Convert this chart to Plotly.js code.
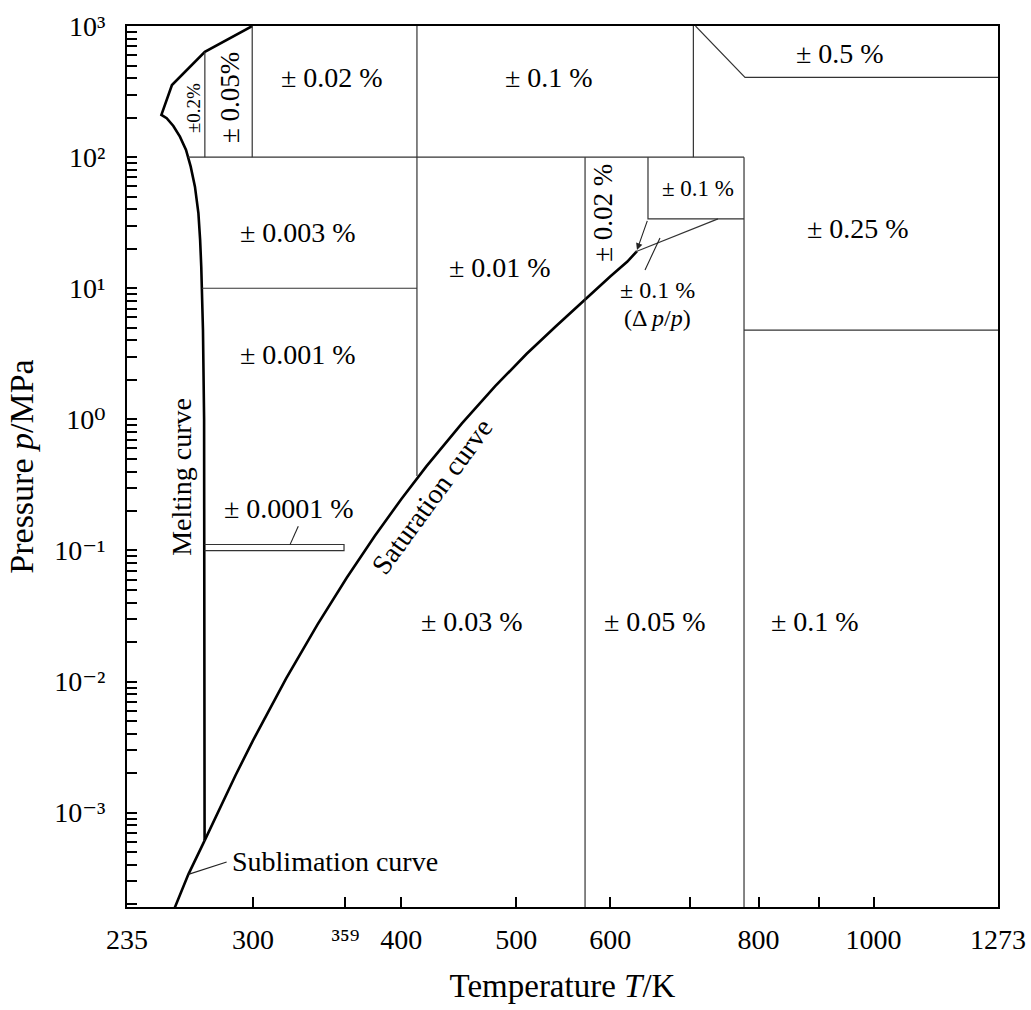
<!DOCTYPE html>
<html>
<head>
<meta charset="utf-8">
<script src="https://cdn.plot.ly/plotly-3.0.1.min.js"></script>
<style>html,body{margin:0;padding:0;background:#fff;}#chart{width:1031px;height:1010px;}</style>
</head>
<body>
<div id="chart"></div>
<script>
// ---------- data (T in K, p in MPa) ----------
const meltT = [273.16, 273.1, 272.9, 272.3, 272.0, 271.4, 270.8, 269.9, 268.1, 265.9, 263.5, 260.4, 257.1, 253.8, 251.2, 256.4, 273.3, 299.6];
const meltP = [0.000612, 0.1, 1, 4.8, 8.2, 14.6, 23.4, 37.4, 59.6, 84.6, 113.5, 143.3, 172.9, 198, 210, 355, 635, 1000];

const sublT = [273.16, 264.7, 257.9, 254];
const sublP = [0.000612, 0.000338, 0.00019, 0.000136];

const satT = [273.16, 280, 290, 300, 320, 340, 360, 380, 400, 420, 450, 480, 510, 540, 570, 600, 620, 632];
const satP = [0.000612, 0.00099, 0.00192, 0.00354, 0.01055, 0.0272, 0.0622, 0.1289, 0.2458, 0.4373, 0.932, 1.79, 3.15, 5.13, 8.1, 12.3, 15.9, 19.2];

// region boundaries (segments separated by null)
const boundT = [273.3, 273.3, null, 299.6, 299.6, null, 412.4, 412.4, null, 705, 705, null,
                264.5, 777.8, null, 271.8, 412.4, null, 571.4, 571.4, null, 777.8, 777.8, null,
                645.6, 645.6, 777.8, null, 777.8, 1273, null, 708, 779.3, 1273, null,
                273.1, 358, 358, 273.1, null, 739.5, 629.6];
const boundP = [635, 100, null, 1000, 100, null, 1000, 0.37, null, 1000, 100, null,
                100, 100, null, 10, 10, null, 100, 1e-4, null, 100, 1e-4, null,
                100, 33.8, 33.8, null, 4.8, 4.8, null, 1000, 406, 406, null,
                0.111, 0.111, 0.0997, 0.0997, null, 33.8, 18.9];

// leader lines
const leadT = [327.6, 322.4, null, 641.9, 660.8, null, 285.1, 264.7];
const leadP = [0.1527, 0.1107, null, 13.8, 24.2, null, 0.00042, 0.000338];

// arrow (from box corner to saturation curve end)
const arrowT = [645.6, 632];
const arrowP = [33.8, 19.6];

// tick labels
const xTickVals = [235, 300, 359, 400, 500, 600, 800, 1000, 1273];
const xTickText = ['235', '300', '\u00B3\u2075\u2079', '400', '500', '600', '800', '1000', '1273'];
const xMinorVals = [700, 900];
const yTickVals = [0.001, 0.01, 0.1, 1, 10, 100, 1000];
const yTickText = ['10\u207B\u00B3', '10\u207B\u00B2', '10\u207B\u00B9', '10\u2070', '10\u00B9', '10\u00B2', '10\u00B3'];

// region labels: [text, T, p, angle, size]
const labels = [
  ['\u00B10.2%', 267.1, 237, -90, 19],
  ['\u00B1 0.05%', 287.0, 282.6, -90, 27],
  ['\u00B1 0.02 %', 349.9, 408.6, 0, 28],
  ['\u00B1 0.1 %', 532.8, 408.6, 0, 28],
  ['\u00B1 0.5 %', 936.9, 622.6, 0, 28],
  ['\u00B1 0.003 %', 327.5, 26.44, 0, 28],
  ['\u00B1 0.01 %', 484.5, 14.31, 0, 28],
  ['\u00B1 0.02 %', 591.6, 37.56, -90, 27],
  ['\u00B1 0.1 %', 711.4, 57.23, 0, 23],
  ['\u00B1 0.25 %', 970.2, 28.36, 0, 28],
  ['\u00B1 0.1 %', 658.2, 9.72, 0, 24],
  ['(\u0394 <i>p</i>/<i>p</i>)', 658.2, 5.95, 0, 24],
  ['\u00B1 0.001 %', 327.5, 3.108, 0, 28],
  ['\u00B1 0.0001 %', 321.8, 0.2083, 0, 28],
  ['Melting curve', 261.5, 0.3651, -90, 28],
  ['Saturation curve', 424.6, 0.2571, -54, 28],
  ['\u00B1 0.03 %', 458.9, 0.02866, 0, 28],
  ['\u00B1 0.05 %', 654.4, 0.02866, 0, 28],
  ['\u00B1 0.1 %', 892.6, 0.02866, 0, 28]
];

// ---------- build ----------
const yMinorVals = [];
for (let d = -4; d <= 2; d++) {
  for (let m = 2; m <= 9; m++) {
    const v = m * Math.pow(10, d);
    if (v >= 1.9e-4) yMinorVals.push(v);
  }
}

const FONT = 'Liberation Serif, DejaVu Serif, serif';
const thick = {color: '#000', width: 2.6};
const traces = [
  {x: meltT, y: meltP, mode: 'lines', line: thick},
  {x: sublT, y: sublP, mode: 'lines', line: thick},
  {x: satT, y: satP, mode: 'lines', line: thick},
  {x: boundT, y: boundP, mode: 'lines', line: {color: '#333', width: 1.2}, connectgaps: false},
  {x: leadT, y: leadP, mode: 'lines', line: {color: '#222', width: 1.1}, connectgaps: false}
];

const annotations = labels.map(l => ({
  text: l[0], x: Math.log10(l[1]), y: Math.log10(l[2]), xref: 'x', yref: 'y',
  showarrow: false, textangle: l[3], font: {family: FONT, size: l[4], color: '#000'}
}));
annotations.push({
  text: 'Sublimation curve', x: Math.log10(287.0), y: Math.log10(4.246e-4), xref: 'x', yref: 'y',
  xanchor: 'left', showarrow: false, font: {family: FONT, size: 28, color: '#000'}
});
annotations.push({
  text: ' ', x: Math.log10(arrowT[1]), y: Math.log10(arrowP[1]),
  ax: Math.log10(arrowT[0]), ay: Math.log10(arrowP[0]), axref: 'x', ayref: 'y', xref: 'x', yref: 'y',
  showarrow: true, arrowhead: 2, arrowsize: 1.2, arrowwidth: 1.1, arrowcolor: '#222', standoff: 0, startstandoff: 0,
  font: {size: 1}
});

const layout = {
  width: 1031, height: 1010,
  margin: {l: 127, r: 33, t: 26, b: 103},
  paper_bgcolor: '#fff', plot_bgcolor: '#fff',
  showlegend: false,
  font: {family: FONT, size: 28, color: '#000'},
  xaxis: {
    type: 'log', range: [Math.log10(234.99), Math.log10(1273.01)],
    tickmode: 'array', tickvals: xTickVals, ticktext: xTickText,
    ticks: 'inside', ticklen: 10, tickwidth: 2, tickcolor: '#000',
    minor: {tickmode: 'array', tickvals: xMinorVals, ticks: 'inside', ticklen: 10, tickwidth: 2, tickcolor: '#000', showgrid: false},
    showline: true, linewidth: 2, linecolor: '#000', mirror: true,
    showgrid: false, zeroline: false,
    tickfont: {family: FONT, size: 28, color: '#000'},
    ticklabelstandoff: 6,
    title: {text: 'Temperature <i>T</i>/K', font: {family: FONT, size: 33, color: '#000'}, standoff: 20}
  },
  yaxis: {
    type: 'log', range: [-3.72, 3.0005],
    tickmode: 'array', tickvals: yTickVals, ticktext: yTickText,
    ticks: 'inside', ticklen: 10, tickwidth: 2, tickcolor: '#000',
    minor: {tickmode: 'array', tickvals: yMinorVals, ticks: 'inside', ticklen: 10, tickwidth: 2, tickcolor: '#000', showgrid: false},
    showline: true, linewidth: 2, linecolor: '#000', mirror: true,
    showgrid: false, zeroline: false,
    tickfont: {family: FONT, size: 28, color: '#000'},
    ticklabelstandoff: 14,
    title: {text: 'Pressure <i>p</i>/MPa', font: {family: FONT, size: 34, color: '#000'}, standoff: 10}
  },
  annotations: annotations,
  hovermode: false
};

Plotly.newPlot('chart', traces, layout, {displayModeBar: false, staticPlot: true});
</script>
</body>
</html>
